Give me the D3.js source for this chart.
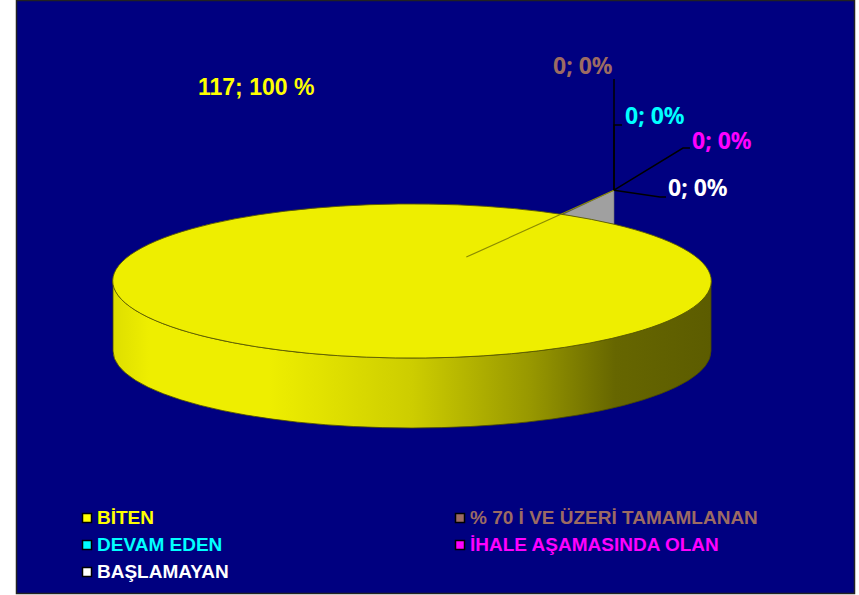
<!DOCTYPE html>
<html>
<head>
<meta charset="utf-8">
<script src="https://cdnjs.cloudflare.com/ajax/libs/d3/7.8.5/d3.min.js"></script>
<style>
    body { margin: 0; background: #fff; }
    svg { display: block; }
    .etiqueta { font-family: "Noto Sans", sans-serif; font-weight: bold; font-size: 23px; }
    .leyenda text { font-family: "Liberation Sans", Arial, sans-serif; font-weight: bold; font-size: 19px; }
</style>
</head>
<body>
<div class="torta"></div>
<script>
// datos del grafico
const categorias = ['BİTEN', '% 70 İ VE ÜZERİ TAMAMLANAN', 'DEVAM EDEN', 'İHALE AŞAMASINDA OLAN', 'BAŞLAMAYAN'];
const valores = [117, 0, 0, 0, 0];
const colores = ['#ffff00', '#9c6b63', '#00ffff', '#ff00ff', '#ffffff'];

const ancho = 859,
    alto = 595;

const svg = d3.select('.torta').append('svg')
    .attr('width', ancho)
    .attr('height', alto);

// fondo azul
svg.append('rect')
    .attr('x', 16.5).attr('y', 0.5)
    .attr('width', 838).attr('height', 593)
    .attr('fill', '#000080')
    .attr('stroke', '#222')
    .attr('stroke-width', 1.5);

const cx = 412, cy = 281, rx = 299, ry = 77, prof = 70;
const rot = 42.5 * Math.PI / 180; // angulo de la primera rebanada

const pie = d3.pie().sort(null).startAngle(rot).endAngle(rot + 2 * Math.PI);
const arcos = pie(valores);

const arc = d3.arc().innerRadius(0).outerRadius(rx);

// punto sobre la elipse
function punto(a, f) {
    return [cx + rx * f * Math.sin(a), cy - ry * f * Math.cos(a)];
}

// degradado del costado
const defs = svg.append('defs');
const grad = defs.append('linearGradient')
    .attr('id', 'costado')
    .attr('gradientUnits', 'userSpaceOnUse')
    .attr('x1', cx - rx).attr('x2', cx + rx)
    .attr('y1', 0).attr('y2', 0);
[[0, '#dede00'], [0.06, '#eeee00'], [0.26, '#eeee00'], [0.5, '#cdcd00'],
 [0.7, '#979700'], [0.84, '#666600'], [1, '#5c5c00']].forEach(s => {
    grad.append('stop').attr('offset', s[0]).attr('stop-color', s[1]);
});

// costado (mitad frontal)
svg.append('path')
    .attr('d', 'M' + (cx - rx) + ',' + cy +
        ' A' + rx + ',' + ry + ' 0 0 0 ' + (cx + rx) + ',' + cy +
        ' L' + (cx + rx) + ',' + (cy + prof) +
        ' A' + rx + ',' + ry + ' 0 0 1 ' + (cx - rx) + ',' + (cy + prof) + ' Z')
    .attr('fill', 'url(#costado)')
    .attr('stroke', '#4a4a00')
    .attr('stroke-width', 0.8);

// cara de la rebanada en cero (gris)
const vertice = [punto(rot, 1)[0], punto(rot, 1)[1] - 34];
const a2 = rot - 12.2 * Math.PI / 180;
svg.append('path')
    .attr('d', 'M' + vertice + ' L' + punto(rot, 1) + ' L' + punto(a2, 1) + ' Z')
    .attr('fill', '#a0a0a0')
    .attr('stroke', '#707070')
    .attr('stroke-width', 0.6);

// cara superior
svg.append('g')
    .attr('transform', 'translate(' + cx + ',' + cy + ') scale(1,' + (ry / rx) + ')')
    .selectAll('path')
    .data(arcos.filter(d => d.value > 0))
    .enter().append('path')
    .attr('d', arc)
    .attr('fill', (d, i) => d3.color(colores[d.index]).darker(0.19))
    .attr('stroke', '#5a5a00')
    .attr('stroke-width', 0.9)
    .attr('vector-effect', 'non-scaling-stroke');

// linea guia amarilla
svg.append('line')
    .attr('x1', punto(a2, 0.36)[0]).attr('y1', punto(a2, 0.36)[1])
    .attr('x2', vertice[0]).attr('y2', vertice[1])
    .attr('stroke', '#8c8c00')
    .attr('stroke-width', 1.2);

// etiquetas
const total = d3.sum(valores);
const etiquetas = [
    { x: 198, y: 95, guia: null },
    { x: 553, y: 74, guia: [[vertice[0], 79]] },
    { x: 625, y: 124, guia: [[vertice[0], 125], [622, 125]] },
    { x: 692, y: 149, guia: [[683, 148], [690, 148]] },
    { x: 668, y: 196, guia: [[660, 197], [666, 197]] }
];

const linea = d3.line();
etiquetas.forEach((e, i) => {
    if (e.guia) {
        svg.append('path')
            .attr('d', linea([vertice].concat(e.guia)))
            .attr('fill', 'none')
            .attr('stroke', '#000')
            .attr('stroke-width', 1.5);
    }
});

svg.selectAll('.etiqueta')
    .data(etiquetas)
    .enter().append('text')
    .attr('class', 'etiqueta')
    .attr('x', d => d.x)
    .attr('y', d => d.y)
    .style('font-family', (d, i) => i === 0 ? '"Liberation Sans", Arial, sans-serif' : null)
    .style('font-size', (d, i) => i === 0 ? '23px' : null)
    .attr('fill', (d, i) => colores[i])
    .text((d, i) => {
        const pct = Math.round(valores[i] / total * 100);
        return i === 0 ? valores[i] + '; ' + pct + ' %' : valores[i] + '; ' + pct + '%';
    });

// leyenda
const leyenda = svg.append('g')
    .attr('class', 'leyenda')
    .selectAll('g')
    .data(categorias)
    .enter().append('g')
    .attr('transform', (d, i) => 'translate(' + (i % 2 === 0 ? 82 : 455) + ',' + (513 + Math.floor(i / 2) * 27) + ')');

leyenda.append('rect')
    .attr('x', 0.5).attr('y', 0.5)
    .attr('width', 9).attr('height', 9)
    .attr('fill', (d, i) => colores[i])
    .attr('stroke', '#000')
    .attr('stroke-width', 1.5);

leyenda.append('text')
    .attr('x', 15)
    .attr('y', 11)
    .attr('fill', (d, i) => colores[i])
    .text(d => d);
</script>
</body>
</html>
